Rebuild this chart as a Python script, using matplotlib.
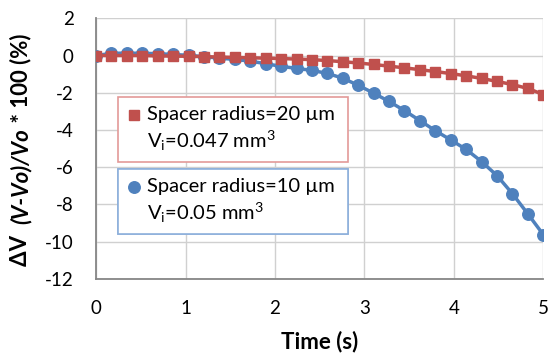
import matplotlib
matplotlib.use('Agg')
import matplotlib.pyplot as plt
from matplotlib.lines import Line2D
from matplotlib.legend_handler import HandlerLine2D

plt.rcParams['font.family'] = ['Lato', 'DejaVu Sans']
plt.rcParams['axes.unicode_minus'] = False
plt.rcParams['mathtext.default'] = 'regular'

# time (s)
time_s = [0.000, 0.172, 0.345, 0.517, 0.690, 0.862, 1.034, 1.207, 1.379, 1.552,
          1.724, 1.897, 2.069, 2.241, 2.414, 2.586, 2.759, 2.931, 3.103, 3.276,
          3.448, 3.621, 3.793, 3.966, 4.138, 4.310, 4.483, 4.655, 4.828, 5.000]

# spacer radius = 20 um
dv_r20 = [0.00, 0.00, 0.00, 0.00, -0.02, -0.03, -0.04, -0.06, -0.08, -0.10,
          -0.12, -0.14, -0.16, -0.19, -0.22, -0.27, -0.33, -0.40, -0.48, -0.57,
          -0.66, -0.76, -0.86, -0.97, -1.09, -1.23, -1.39, -1.56, -1.77, -2.10]

# spacer radius = 10 um
dv_r10 = [0.00, 0.12, 0.13, 0.12, 0.10, 0.06, 0.01, -0.06, -0.14, -0.21,
          -0.30, -0.44, -0.58, -0.69, -0.80, -0.96, -1.22, -1.60, -2.02, -2.47,
          -2.96, -3.50, -4.04, -4.54, -5.05, -5.70, -6.46, -7.43, -8.52, -9.63]

label_r20 = 'Spacer radius=20 µm\nV$_\\mathregular{i}$=0.047 mm$^\\mathregular{3}$'
label_r10 = 'Spacer radius=10 µm\nV$_\\mathregular{i}$=0.05 mm$^\\mathregular{3}$'

RED, BLUE = '#C0504D', '#4F81BD'
FS_TICK, FS_LEG, FS_LAB = 13.5, 14.5, 16

fig = plt.figure(figsize=(5.49, 3.53), dpi=100)
ax = fig.add_axes([0.175, 0.2105, 0.8146, 0.7375])

ax.plot(time_s, dv_r10, color=BLUE, lw=2.5, marker='o', ms=8.3, zorder=3)
ax.plot(time_s, dv_r20, color=RED, lw=2.5, marker='s', ms=7.6, zorder=4)

ax.set_xlim(0, 5)
ax.set_ylim(-12, 2)
ax.set_xticks(range(0, 6))
ax.set_yticks(range(-12, 3, 2))
ax.grid(True, color='#D0D0D0', lw=1)
ax.set_axisbelow(True)
ax.tick_params(length=0, labelsize=FS_TICK)
ax.tick_params(axis='y', pad=16)
ax.tick_params(axis='x', pad=15)
for s in ['top', 'right']:
    ax.spines[s].set_visible(False)
for s in ['left', 'bottom']:
    ax.spines[s].set_color('#868686')
    ax.spines[s].set_linewidth(1.3)

ax.set_xlabel('Time (s)', fontsize=FS_LAB, fontweight='bold', labelpad=10)


class RaisedHandler(HandlerLine2D):
    # put the legend marker next to the first line of the label
    def create_artists(self, legend, orig_handle, xdescent, ydescent,
                       width, height, fontsize, trans):
        return super().create_artists(legend, orig_handle, xdescent,
                                      ydescent - 1.4 * fontsize, width,
                                      height, fontsize, trans)


def box_legend(handle, label, edge, anchor):
    leg = ax.legend([handle], [label], loc='upper left', bbox_to_anchor=anchor,
                    mode='expand', fontsize=FS_LEG, frameon=True, fancybox=False,
                    framealpha=1, edgecolor=edge, borderpad=0.45,
                    handlelength=0.7, handletextpad=0.3, borderaxespad=0,
                    handler_map={handle: RaisedHandler()})
    leg.get_frame().set_linewidth(1.2)
    for t in leg.get_texts():
        t.set_linespacing(1.3)
    ax.add_artist(leg)
    return leg


h20 = Line2D([], [], color=RED, marker='s', ms=7.6, ls='none')
h10 = Line2D([], [], color=BLUE, marker='o', ms=8.3, ls='none')
box_legend(h20, label_r20, '#E39A98', (0.049, 0.448, 0.514, 0.25))
box_legend(h10, label_r10, '#8EB0DB', (0.049, 0.171, 0.514, 0.25))

# y label: mixed bold / bold italic pieces stacked along the rotated axis
pieces = [('ΔV  ', 'normal'), ('(V-Vo)/Vo', 'italic'), (' * 100 (%)', 'normal')]
renderer = fig.canvas.get_renderer()
texts, lengths = [], []
for s, style in pieces:
    t = fig.text(0.038, 0, s, rotation=90, rotation_mode='anchor', ha='left',
                 va='center', fontsize=FS_LAB, fontweight='bold', fontstyle=style)
    texts.append(t)
    lengths.append(t.get_window_extent(renderer).height / fig.bbox.height)
y0 = 0.575 - sum(lengths) / 2
for t, h in zip(texts, lengths):
    t.set_y(y0)
    y0 += h

plt.savefig('out.png', dpi=100)
print('finished')
